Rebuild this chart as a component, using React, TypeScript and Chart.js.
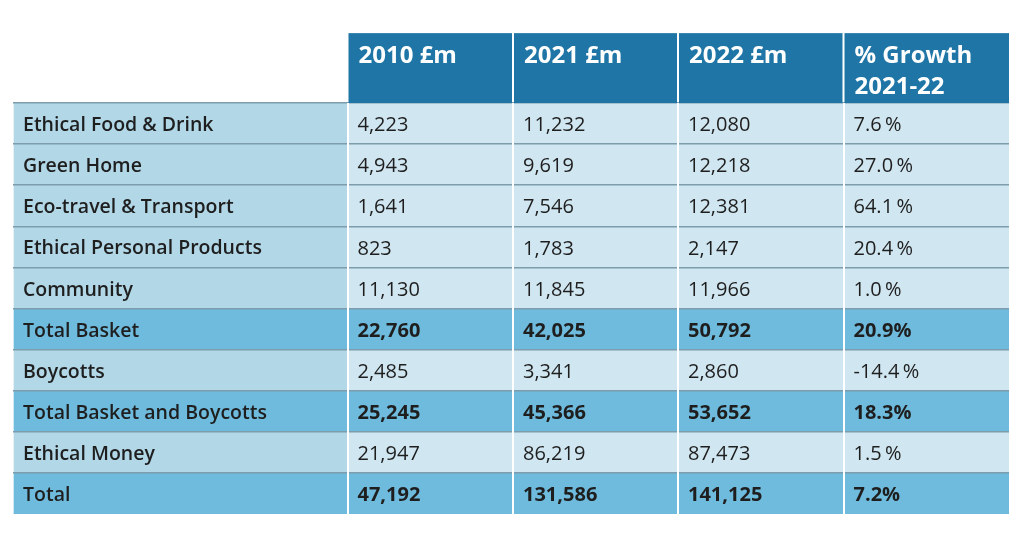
import React, { useEffect, useRef } from "react";
import { Chart, registerables } from "chart.js";

Chart.register(...registerables);

// ---- data ----
const rowLabels = [
  "Ethical Food & Drink",
  "Green Home",
  "Eco-travel & Transport",
  "Ethical Personal Products",
  "Community",
  "Total Basket",
  "Boycotts",
  "Total Basket and Boycotts",
  "Ethical Money",
  "Total",
];
const values2010 = [4223, 4943, 1641, 823, 11130, 22760, 2485, 25245, 21947, 47192];
const values2021 = [11232, 9619, 7546, 1783, 11845, 42025, 3341, 45366, 86219, 131586];
const values2022 = [12080, 12218, 12381, 2147, 11966, 50792, 2860, 53652, 87473, 141125];
const growth2122 = [7.6, 27.0, 64.1, 20.4, 1.0, 20.9, -14.4, 18.3, 1.5, 7.2];
const columnHeaders = [[], ["2010 £m"], ["2021 £m"], ["2022 £m"], ["% Growth", "2021-22"]];
const totalRows = ["Total Basket", "Total Basket and Boycotts", "Total"];

// ---- layout / style ----
const columnWidths = [334.5, 165.5, 165, 165.5, 165.5];
const colEdges = columnWidths.reduce<number[]>((acc, w) => {
  acc.push(acc[acc.length - 1] + w);
  return acc;
}, [0]);
const HEADER_ROWS = 1.7;
const FONT = '"Open Sans", "Noto Sans", sans-serif';
const C_HEADER = "#1f76a6";
const C_LABEL = "#b2d8e8";
const C_CELL = "#d0e6f1";
const C_TOTAL = "#6fbbde";
const C_RULE = "#7d9cac";
const C_TEXT = "#1e1e1e";

const isTotal = (i: number) => totalRows.includes(rowLabels[i]);
const fmtNum = (v: number) => v.toLocaleString("en-GB");
const fmtPct = (v: number, total: boolean) => (total ? `${v.toFixed(1)}%` : `${v.toFixed(1)}\u2009%`);

const cellText = (row: number, col: number): string => {
  if (col === 0) return rowLabels[row];
  if (col === 1) return fmtNum(values2010[row]);
  if (col === 2) return fmtNum(values2021[row]);
  if (col === 3) return fmtNum(values2022[row]);
  return fmtPct(growth2122[row], isTotal(row));
};

const tablePlugin = {
  id: "tableText",
  afterDraw(chart: any) {
    const { ctx, chartArea, scales } = chart;
    const xs = scales.x;
    const ys = scales.y;
    const rowH = ys.getPixelForValue(1) - ys.getPixelForValue(0);
    const headerTop = chartArea.top - rowH * HEADER_ROWS;
    ctx.save();
    // header cells
    for (let c = 1; c < columnWidths.length; c++) {
      const l = xs.getPixelForValue(colEdges[c]) + 1;
      const r = xs.getPixelForValue(colEdges[c + 1]) - (c === columnWidths.length - 1 ? 0 : 1);
      ctx.fillStyle = C_HEADER;
      ctx.fillRect(l, headerTop, r - l, chartArea.top - headerTop);
      ctx.fillStyle = "#ffffff";
      ctx.font = `700 24px ${FONT}`;
      ctx.textBaseline = "alphabetic";
      ctx.textAlign = "left";
      columnHeaders[c].forEach((line, k) => {
        ctx.fillText(line, l + 10, headerTop + 30 + k * 31);
      });
    }
    // body text
    ctx.fillStyle = C_TEXT;
    ctx.textBaseline = "middle";
    for (let i = 0; i < rowLabels.length; i++) {
      const y = ys.getPixelForValue(i) + 2;
      for (let c = 0; c < columnWidths.length; c++) {
        const x = xs.getPixelForValue(colEdges[c]) + 10;
        const weight = c === 0 ? 600 : isTotal(i) ? 700 : 400;
        ctx.font = `${weight} ${c === 0 ? 19.5 : 20}px ${FONT}`;
        ctx.fillText(cellText(i, c), x, y);
      }
    }
    ctx.restore();
  },
};

export default function App() {
  const ref = useRef<HTMLCanvasElement | null>(null);
  useEffect(() => {
    if (!ref.current) return;
    const datasets = columnWidths.map((_, c) => ({
      label: `col${c}`,
      data: rowLabels.map(() => [colEdges[c], colEdges[c + 1]]),
      backgroundColor: rowLabels.map((_, i) => (isTotal(i) ? C_TOTAL : c === 0 ? C_LABEL : C_CELL)),
      borderWidth: 0,
      barPercentage: 1,
      categoryPercentage: 1,
      grouped: false,
    }));
    const chart = new Chart(ref.current, {
      type: "bar",
      data: { labels: rowLabels, datasets: datasets as any },
      options: {
        indexAxis: "y",
        animation: false,
        responsive: true,
        maintainAspectRatio: false,
        layout: { padding: { left: 13, right: 15, top: 103, bottom: 19 } },
        plugins: { legend: { display: false }, tooltip: { enabled: false } },
        scales: {
          x: {
            type: "linear",
            min: colEdges[0],
            max: colEdges[colEdges.length - 1],
            afterBuildTicks: (scale: any) => {
              scale.ticks = colEdges.map((v) => ({ value: v }));
            },
            ticks: { display: false },
            border: { display: false },
            grid: {
              drawTicks: false,
              lineWidth: 2,
              z: 2,
              color: (ctx: any) =>
                ctx.index > 0 && ctx.index < colEdges.length - 1 ? "#ffffff" : "rgba(0,0,0,0)",
            },
          } as any,
          y: {
            type: "category",
            ticks: { display: false },
            border: { display: false },
            grid: {
              offset: true,
              drawTicks: false,
              lineWidth: 1.5,
              z: 1,
              color: (ctx: any) => (ctx.type === "tick" ? C_RULE : "rgba(0,0,0,0)"),
            },
          } as any,
        },
      },
      plugins: [tablePlugin],
    });
    return () => chart.destroy();
  }, []);
  return (
    <div style={{ position: "fixed", left: 0, top: 0, width: 1024, height: 533, background: "#fff" }}>
      <canvas ref={ref} />
    </div>
  );
}
